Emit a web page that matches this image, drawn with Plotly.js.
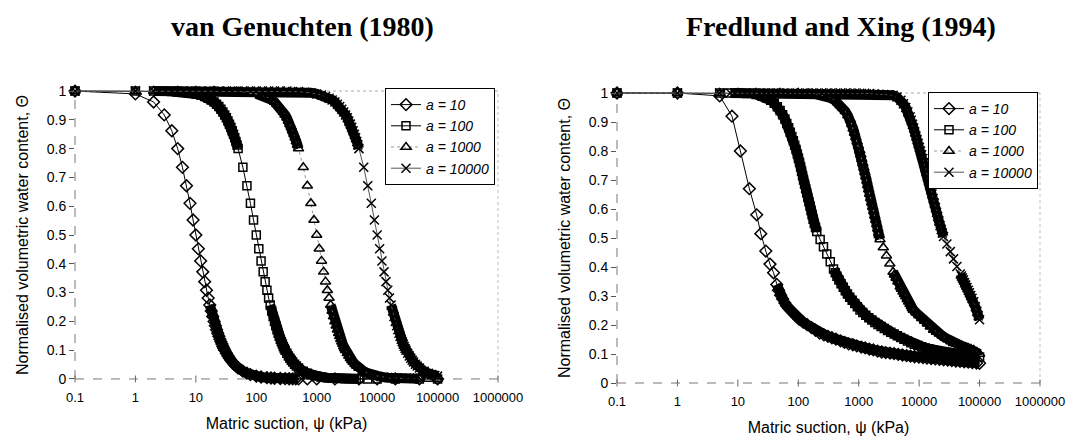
<!DOCTYPE html>
<html><head><meta charset="utf-8">
<script src="https://cdn.plot.ly/plotly-3.0.1.min.js"></script>
<style>html,body{margin:0;padding:0;background:#fff;}#chart{width:1072px;height:445px;}</style>
</head><body><div id="chart"></div>
<script>
// ---------------- DATA ----------------
const seriesNames = ['a = 10', 'a = 100', 'a = 1000', 'a = 10000'];
const chartTitles = ['van Genuchten (1980)', 'Fredlund and Xing (1994)'];
const xTitle = 'Matric suction, \u03c8 (kPa)';
const yTitle = 'Normalised volumetric water content, \u0398';
const xTickVals = [0.1, 1, 10, 100, 1000, 10000, 100000, 1000000];
const xTickText = ['0.1', '1', '10', '100', '1000', '10000', '100000', '1000000'];

// van Genuchten (1980)
const vgA10_x = [0.1,1,2,3,4,5,6,7,8,9,10,11,12,13,14,15,16,17,18,19,20,21,22,23,24,25,26,27,28,29,30,32,34,36,38,40,43,46,50,60,70,80,100,120,150,175,200,250,300,350,400,450,500,700,1000,2000,5000,10000,20000,50000,100000];
const vgA10_y = [1,0.99,0.962,0.917,0.862,0.8,0.735,0.671,0.61,0.552,0.5,0.452,0.41,0.372,0.338,0.308,0.281,0.257,0.236,0.217,0.2,0.185,0.171,0.159,0.148,0.138,0.129,0.121,0.113,0.106,0.1,0.089,0.08,0.072,0.065,0.059,0.051,0.045,0.038,0.027,0.02,0.015,0.0099,0.0069,0.0044,0.0033,0.0025,0.0016,0.0011,0.0008,0.0006,0.0005,0.0004,0.0002,0.0001,0,0,0,0,0,0];

const vgA100_x = [0.1,1,2,3,4,5,6,7,8,10,12,14,16,18,20,22,24,26,28,30,32,34,36,38,40,42,44,46,48,50,60,70,80,90,100,110,120,130,140,150,160,170,180,190,200,210,220,230,240,250,260,270,280,290,300,320,340,360,380,400,430,460,500,600,700,800,1000,1200,1500,1750,2000,2500,3000,3500,4000,4500,5000,7000,10000,20000,50000,100000];
const vgA100_y = [1,1,1,0.999,0.998,0.998,0.996,0.995,0.994,0.99,0.986,0.981,0.975,0.969,0.962,0.954,0.946,0.937,0.927,0.917,0.907,0.896,0.885,0.874,0.862,0.85,0.838,0.825,0.813,0.8,0.735,0.671,0.61,0.552,0.5,0.452,0.41,0.372,0.338,0.308,0.281,0.257,0.236,0.217,0.2,0.185,0.171,0.159,0.148,0.138,0.129,0.121,0.113,0.106,0.1,0.089,0.08,0.072,0.065,0.059,0.051,0.045,0.038,0.027,0.02,0.015,0.0099,0.0069,0.0044,0.0033,0.0025,0.0016,0.0011,0.0008,0.0006,0.0005,0.0004,0.0002,0.0001,0,0,0];

const vgA1000_x = [0.1,1,2,5,10,20,50,100,120,140,160,180,200,220,240,260,280,300,320,340,360,380,400,420,440,460,480,500,600,700,800,900,1000,1100,1200,1300,1400,1500,1600,1700,1800,1900,2000,2100,2200,2300,2400,2500,2600,2700,2800,2900,3000,3200,3400,3600,3800,4000,4300,4600,5000,6000,7000,8000,10000,12000,15000,17500,20000,25000,30000,35000,40000,45000,50000,70000,100000];
const vgA1000_y = [1,1,1,1,1,1,0.998,0.99,0.986,0.981,0.975,0.969,0.962,0.954,0.946,0.937,0.927,0.917,0.907,0.896,0.885,0.874,0.862,0.85,0.838,0.825,0.813,0.8,0.735,0.671,0.61,0.552,0.5,0.452,0.41,0.372,0.338,0.308,0.281,0.257,0.236,0.217,0.2,0.185,0.171,0.159,0.148,0.138,0.129,0.121,0.113,0.106,0.1,0.089,0.08,0.072,0.065,0.059,0.051,0.045,0.038,0.027,0.02,0.015,0.0099,0.0069,0.0044,0.0033,0.0025,0.0016,0.0011,0.0008,0.0006,0.0005,0.0004,0.0002,0.0001];

const vgA10000_x = [0.1,1,2,2.5,3.2,4,5,6.3,8,10,12.6,16,20,25,32,40,50,63,80,100,126,160,200,250,320,400,500,630,800,1000,1200,1400,1600,1800,2000,2200,2400,2600,2800,3000,3200,3400,3600,3800,4000,4200,4400,4600,4800,5000,6000,7000,8000,9000,10000,11000,12000,13000,14000,15000,16000,17000,18000,19000,20000,21000,22000,23000,24000,25000,26000,27000,28000,29000,30000,32000,34000,36000,38000,40000,43000,46000,50000,60000,70000,80000,90000,100000];
const vgA10000_y = [1,1,1,1,1,1,1,1,1,1,1,1,1,1,1,1,1,1,1,1,1,1,1,1,1,0.998,0.998,0.996,0.994,0.99,0.986,0.981,0.975,0.969,0.962,0.954,0.946,0.937,0.927,0.917,0.907,0.896,0.885,0.874,0.862,0.85,0.838,0.825,0.813,0.8,0.735,0.671,0.61,0.552,0.5,0.452,0.41,0.372,0.338,0.308,0.281,0.257,0.236,0.217,0.2,0.185,0.171,0.159,0.148,0.138,0.129,0.121,0.113,0.106,0.1,0.089,0.08,0.072,0.065,0.059,0.051,0.045,0.038,0.027,0.02,0.015,0.0122,0.0099];

// Fredlund and Xing (1994)
const fxA10_x = [0.1,1,5,8,11,15.5,20.5,24,29,34,39,44,47,51,55,60,64,70,75,82,88,95,103,120,140,165,193,225,265,310,360,420,500,580,680,800,930,1100,1280,1500,1750,2050,2400,2800,3300,3850,4500,5300,6200,7200,8400,9900,11600,13500,15800,18500,21700,25400,29700,34700,40600,47500,55600,65000,76000,89000,100000];
const fxA10_y = [1,1,0.99,0.92,0.8,0.67,0.58,0.515,0.455,0.41,0.38,0.34,0.32,0.303,0.29,0.276,0.266,0.257,0.25,0.242,0.235,0.228,0.22,0.21,0.201,0.191,0.182,0.172,0.166,0.161,0.156,0.151,0.145,0.14,0.135,0.132,0.128,0.124,0.121,0.117,0.114,0.11,0.107,0.105,0.103,0.101,0.099,0.0965,0.0944,0.0925,0.0905,0.089,0.0875,0.086,0.0846,0.0831,0.0816,0.0801,0.0787,0.0773,0.0759,0.0746,0.0732,0.0718,0.0704,0.069,0.068];

const fxA100_x = [0.1,1,5,7,10,14,20,25,30,35,40,45,50,55,60,64.5,69.3,73.7,78.2,82.9,87.2,91.8,96.4,100.6,105,109.3,113.4,117.6,122,127.1,132.4,137.9,143.7,149.8,156.1,162.4,169,175.7,184.1,192.8,202,230,261,296,338,383,410,436,470,510,555,600,650,710,780,860,950,1050,1170,1310,1470,1650,1850,2080,2350,2650,3000,3400,3850,4350,4950,5600,6400,7300,8300,9500,11000,12600,14500,17000,20000,23500,28000,33000,39000,47000,56000,67000,80000,100000];
const fxA100_y = [1,1,1,1,1,0.998,0.995,0.99,0.983,0.975,0.965,0.953,0.94,0.925,0.91,0.895,0.88,0.865,0.85,0.835,0.82,0.805,0.79,0.775,0.76,0.745,0.73,0.715,0.7,0.685,0.67,0.655,0.64,0.625,0.61,0.595,0.58,0.565,0.55,0.536,0.522,0.495,0.47,0.445,0.418,0.393,0.38,0.368,0.355,0.342,0.33,0.318,0.307,0.296,0.285,0.274,0.263,0.252,0.243,0.234,0.225,0.217,0.209,0.202,0.195,0.188,0.181,0.175,0.169,0.163,0.157,0.151,0.145,0.139,0.134,0.129,0.125,0.121,0.118,0.114,0.111,0.108,0.106,0.104,0.102,0.1,0.098,0.096,0.093,0.09];

const fxA1000_x = [0.1,1,5,10,20,50,100,150,200,250,300,350,400,450,500,550,600,662,730,768,808.6,850.6,894.6,942,991,1043,1085,1126,1170,1215,1262,1309,1358,1408,1460,1514,1573,1636,1702,1771,1841,1914,1990,2063,2136,2173,2250,2550,2880,3270,3700,3900,4150,4450,4860,5100,5400,5700,6000,6350,6700,7050,7400,7700,8000,8900,9900,11000,12300,13700,15300,17300,19300,21500,24000,27000,30000,33500,37000,41500,46500,52000,58000,65000,72000,80000,90000,100000];
const fxA1000_y = [1,1,1,1,1,1,1,0.998,0.995,0.992,0.988,0.982,0.975,0.967,0.957,0.947,0.937,0.922,0.907,0.892,0.877,0.862,0.847,0.832,0.817,0.802,0.787,0.772,0.757,0.742,0.727,0.712,0.697,0.682,0.667,0.652,0.637,0.622,0.607,0.592,0.577,0.562,0.547,0.532,0.517,0.51,0.495,0.467,0.439,0.411,0.383,0.373,0.362,0.349,0.332,0.324,0.315,0.306,0.298,0.289,0.28,0.272,0.265,0.258,0.252,0.2425,0.233,0.2235,0.2135,0.204,0.194,0.183,0.176,0.17,0.163,0.156,0.15,0.143,0.137,0.1336,0.1302,0.1268,0.1235,0.1201,0.117,0.114,0.107,0.1];

const fxA10000_x = [0.1,1,5,7.5,9,10.8,13,15.6,18.7,22.5,27,32.4,38.9,46.7,56,67,81,97,116,140,168,201,242,290,348,418,501,602,722,866,1040,1250,1500,1800,2160,2590,3110,3700,4300,5000,5500,6000,6500,7100,7400,7750,8100,8450,8850,9250,9650,10100,10550,11000,11500,12000,12550,13100,13700,14300,14950,15600,16300,17050,17800,18600,19450,20300,21200,22150,23200,24200,25300,28800,32800,37000,42200,48000,50000,52000,54000,56500,59000,62000,65000,68000,71500,75000,80000,85000,90000,95000,100000];
const fxA10000_y = [1,1,1,1,1,1,1,1,1,1,1,1,1,1,1,1,1,1,1,1,1,1,1,1,1,1,1,1,1,1,0.999,0.999,0.998,0.997,0.996,0.995,0.994,0.992,0.986,0.975,0.963,0.95,0.935,0.918,0.906,0.892,0.879,0.866,0.852,0.839,0.826,0.813,0.8,0.787,0.774,0.76,0.744,0.729,0.713,0.698,0.682,0.667,0.652,0.636,0.621,0.605,0.589,0.574,0.559,0.543,0.529,0.517,0.505,0.479,0.453,0.428,0.402,0.376,0.369,0.362,0.355,0.346,0.338,0.329,0.32,0.311,0.302,0.292,0.28,0.263,0.247,0.232,0.218];

// ---------------- LAYOUT GEOMETRY ----------------
const W = 1072, H = 445;
const yRange = [-0.03, 1.03];
const xDomL = [75 / W, 498 / W], yDomL = [(H - 387.6) / H, (H - 82.4) / H];
const xDomR = [617 / W, 1040 / W], yDomR = [(H - 391.7) / H, (H - 84.3) / H];

const styles = [
  {symbol: 'diamond-open', size: 9, lineColor: '#000', dash: 'solid'},
  {symbol: 'square-open', size: 8, lineColor: '#000', dash: 'solid'},
  {symbol: 'triangle-up-open', size: 9, lineColor: '#999', dash: 'dot'},
  {symbol: 'x-thin-open', size: 9, lineColor: '#555', dash: 'solid'}
];

// Where markers sit closer than ~7 px they fuse into a solid band in the original print.
function bandOf(xs, ys, pxDec, pxUnit) {
  const bx = [], by = [];
  let last = -2;
  for (let i = 0; i < xs.length - 1; i++) {
    const dx = (Math.log10(xs[i + 1]) - Math.log10(xs[i])) * pxDec;
    const dy = (ys[i + 1] - ys[i]) * pxUnit;
    if (Math.hypot(dx, dy) < 6.8) {
      if (last !== i) {
        if (bx.length) { bx.push(null); by.push(null); }
        bx.push(xs[i]); by.push(ys[i]);
      }
      bx.push(xs[i + 1]); by.push(ys[i + 1]);
      last = i + 1;
    }
  }
  return {x: bx, y: by};
}

const traces = [];
function addChart(xsList, ysList, xa, ya, legendId, xDom, yDom) {
  const pxDec = (xDom[1] - xDom[0]) * W / 7;
  const pxUnit = (yDom[1] - yDom[0]) * H / (yRange[1] - yRange[0]);
  xsList.forEach((xs, i) => {
    const b = bandOf(xs, ysList[i], pxDec, pxUnit);
    traces.push({x: b.x, y: b.y, xaxis: xa, yaxis: ya, mode: 'lines', connectgaps: false,
      line: {color: '#000', width: 10}, showlegend: false, hoverinfo: 'skip', legend: legendId});
  });
  xsList.forEach((xs, i) => {
    const s = styles[i];
    traces.push({x: xs, y: ysList[i], xaxis: xa, yaxis: ya, mode: 'lines+markers',
      name: '<i>' + seriesNames[i] + '</i>', legend: legendId, cliponaxis: false,
      line: {color: s.lineColor, width: 1, dash: s.dash},
      marker: {symbol: s.symbol, size: s.size, color: '#000', line: {color: '#000', width: 1.5}}});
  });
}
addChart([vgA10_x, vgA100_x, vgA1000_x, vgA10000_x], [vgA10_y, vgA100_y, vgA1000_y, vgA10000_y], 'x', 'y', 'legend', xDomL, yDomL);
addChart([fxA10_x, fxA100_x, fxA1000_x, fxA10000_x], [fxA10_y, fxA100_y, fxA1000_y, fxA10000_y], 'x2', 'y2', 'legend2', xDomR, yDomR);

const FONT = 'Liberation Sans, Arial, sans-serif';
function xAxis(dom, anchor) {
  return {domain: dom, anchor: anchor, type: 'log', range: [-1, 6], tickmode: 'array',
    tickvals: xTickVals, ticktext: xTickText, ticks: '', showgrid: false, zeroline: false, showline: false,
    tickfont: {family: FONT, size: 13, color: '#000'},
    title: {text: xTitle, font: {family: FONT, size: 16, color: '#000'}, standoff: 14}};
}
function yAxis(dom, anchor) {
  return {domain: dom, anchor: anchor, range: yRange, tickmode: 'linear', tick0: 0, dtick: 0.1,
    ticks: 'outside', ticklen: 5, tickcolor: '#555', showgrid: false, zeroline: false, showline: false,
    tickfont: {family: FONT, size: 14, color: '#000'},
    title: {text: yTitle, font: {family: FONT, size: 16, color: '#000'}, standoff: 14}};
}
function frame(xr, yr) {
  const sh = [
    {type: 'line', xref: xr + ' domain', yref: yr, x0: 0, x1: 1, y0: 0, y1: 0, layer: 'below', line: {color: '#777', width: 1, dash: 'dash'}},
    {type: 'line', xref: xr + ' domain', yref: yr, x0: 0, x1: 0, y0: 0, y1: 1, layer: 'below', line: {color: '#777', width: 1, dash: 'dash'}},
    {type: 'line', xref: xr + ' domain', yref: yr, x0: 0, x1: 1, y0: 1, y1: 1, layer: 'below', line: {color: '#aaa', width: 1, dash: 'dot'}},
    {type: 'line', xref: xr + ' domain', yref: yr, x0: 1, x1: 1, y0: 0, y1: 1, layer: 'below', line: {color: '#bbb', width: 1, dash: 'dot'}}
  ];
  xTickVals.forEach((v, k) => {
    const f = k / (xTickVals.length - 1);
    sh.push({type: 'line', xref: xr + ' domain', yref: yr, x0: f, x1: f, y0: -0.012, y1: 0.012, layer: 'below', line: {color: '#666', width: 1}});
  });
  return sh;
}
function legendBox(x, y) {
  return {x: x, y: y, xanchor: 'left', yanchor: 'top', bgcolor: '#fff', bordercolor: '#000', borderwidth: 1,
    font: {family: FONT, size: 14, color: '#000'}, tracegroupgap: 0, traceorder: 'normal'};
}

const layout = {
  width: W, height: H, margin: {l: 0, r: 0, t: 0, b: 0}, paper_bgcolor: '#fff', plot_bgcolor: '#fff',
  showlegend: true, hovermode: false,
  xaxis: xAxis(xDomL, 'y'), yaxis: yAxis(yDomL, 'x'),
  xaxis2: xAxis(xDomR, 'y2'), yaxis2: yAxis(yDomR, 'x2'),
  legend: legendBox(385 / W, (H - 88) / H),
  legend2: legendBox(928 / W, (H - 92) / H),
  shapes: frame('x', 'y').concat(frame('x2', 'y2')),
  annotations: [
    {text: '<b>' + chartTitles[0] + '</b>', xref: 'paper', yref: 'paper', x: 302 / W, y: 1 - 26 / H,
      xanchor: 'center', yanchor: 'middle', showarrow: false, font: {family: 'Liberation Serif, Times New Roman, serif', size: 28, color: '#000'}},
    {text: '<b>' + chartTitles[1] + '</b>', xref: 'paper', yref: 'paper', x: 841 / W, y: 1 - 27 / H,
      xanchor: 'center', yanchor: 'middle', showarrow: false, font: {family: 'Liberation Serif, Times New Roman, serif', size: 28, color: '#000'}}
  ]
};

Plotly.newPlot('chart', traces, layout, {displayModeBar: false, staticPlot: true});
</script>
</body></html>
